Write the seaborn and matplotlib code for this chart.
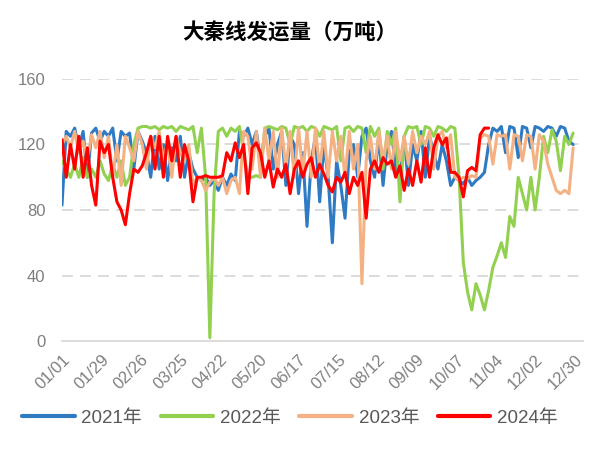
import numpy as np
import pandas as pd
import matplotlib
matplotlib.use("Agg")
import matplotlib.pyplot as plt
from matplotlib.lines import Line2D
import seaborn as sns

step_days = 3
tick_days = [0, 28, 56, 84, 112, 140, 168, 196, 224, 252, 280, 308, 336, 364]
tick_labels = ["01/01", "01/29", "02/26", "03/25", "04/22", "05/20", "06/17",
               "07/15", "08/12", "09/09", "10/07", "11/04", "12/02", "12/30"]
years = ["2021年", "2022年", "2023年", "2024年"]

v2021 = [83, 128, 125, 130, 118, 128, 100, 127, 130, 122,
         128, 125, 130, 110, 128, 125, 127, 105, 128, 122,
         115, 100, 125, 105, 120, 98, 118, 110, 125, 100,
         115, 105, 100, 98, 100, 95, 98, 92, 100, 95,
         102, 98, 128, 125, 130, 120, 128, 110, 125, 130,
         105, 120, 128, 95, 125, 120, 90, 115, 70, 110,
         125, 85, 120, 100, 60, 110, 95, 75, 115, 120,
         100, 125, 130, 110, 100, 125, 95, 120, 128, 105,
         100, 125, 95, 120, 110, 128, 100, 125, 115, 105,
         120, 110, 95, 100, 98, 96, 100, 95, 98, 100,
         103, 120, 130, 128, 131, 115, 131, 130, 112, 131,
         130, 118, 131, 130, 128, 131, 130, 125, 131, 130,
         122, 120]

v2022 = [110, 105, 100, 108, 100, 112, 100, 105, 100, 110,
         102, 98, 108, 100, 110, 95, 100, 120, 130, 131,
         131, 130, 131, 129, 131, 130, 131, 128, 131, 130,
         129, 131, 115, 130, 100, 2, 90, 128, 130, 125,
         130, 128, 131, 115, 100, 100, 101, 100, 130, 131,
         130, 129, 131, 130, 120, 131, 130, 131, 128, 131,
         130, 125, 131, 130, 129, 131, 110, 130, 131, 128,
         131, 130, 115, 131, 125, 130, 105, 128, 120, 130,
         85, 125, 131, 130, 131, 120, 131, 130, 125, 131,
         130, 128, 131, 130, 100, 48, 30, 19, 35, 28,
         19, 31, 45, 52, 60, 51, 76, 70, 100, 90,
         80, 100, 80, 100, 125, 115, 129, 122, 104, 125,
         120, 127]

v2023 = [120, 125, 118, 128, 115, 122, 110, 126, 118, 128,
         112, 125, 100, 120, 95, 125, 118, 110, 128, 120,
         105, 125, 118, 128, 110, 122, 100, 125, 115, 110,
         120, 95, 100, 98, 92, 97, 100, 95, 100, 90,
         98, 100, 90, 128, 125, 105, 128, 100, 130, 110,
         128, 100, 130, 105, 128, 100, 130, 102, 128, 100,
         130, 105, 128, 100, 128, 110, 125, 100, 128, 105,
         120, 35, 110, 125, 105, 128, 110, 125, 105, 128,
         110, 125, 108, 128, 115, 125, 120, 128, 105, 125,
         128, 118, 126, 100, 98, 100, 99, 101, 100, 124,
         126, 125, 108, 126, 125, 126, 105, 126, 125, 110,
         126, 125, 105, 126, 122, 108, 100, 92, 90, 92,
         90, 118]

v2024 = [123, 100, 120, 105, 125, 100, 118, 95, 83, 122,
         115, 120, 100, 85, 80, 71, 90, 105, 103, 107,
         115, 125, 105, 125, 100, 125, 110, 125, 100, 120,
         110, 85, 100, 100, 101, 100, 100, 100, 101, 115,
         110, 121, 112, 120, 90, 118, 121, 115, 100, 110,
         94, 105, 100, 108, 90, 105, 110, 100, 108, 112,
         100, 108, 102, 95, 91, 100, 97, 103, 90, 100,
         95, 103, 75, 105, 110, 103, 112, 108, 110, 100,
         107, 92, 105, 95, 110, 97, 118, 100, 118, 126,
         120, 124, 103, 103, 100, 88, 104, 106, 104, 126,
         130, 130]

colors = ["#2E7BC4", "#92D050", "#F4B183", "#FF0000"]

frames = []
for name, vals in zip(years, [v2021, v2022, v2023, v2024]):
    frames.append(pd.DataFrame({"day": np.arange(len(vals)) * step_days,
                                "value": vals, "year": name}))
df = pd.concat(frames, ignore_index=True)

# ---- style ----
sns.set_style("white")
plt.rcParams["font.family"] = ["Liberation Sans", "Noto Sans CJK SC", "DejaVu Sans"]

fig = plt.figure(figsize=(6.0, 4.54), dpi=100)
ax = fig.add_axes([62 / 600, 1 - 341 / 454, (583 - 62) / 600, (341 - 79) / 454])

sns.lineplot(data=df, x="day", y="value", hue="year", hue_order=years,
             palette=colors, linewidth=2.2, estimator=None, sort=False,
             legend=False, ax=ax)

ax.set_xlim(0, 370)
ax.set_ylim(0, 160)
ax.set_yticks([0, 40, 80, 120, 160])
ax.set_xticks(tick_days)
ax.set_xticklabels(tick_labels, rotation=45, ha="right", rotation_mode="anchor")
ax.tick_params(axis="both", length=0, labelsize=12, labelcolor="#7F7F7F")
ax.tick_params(axis="x", pad=8)
ax.tick_params(axis="y", pad=12)
ax.set_xlabel("")
ax.set_ylabel("")

for y in [40, 80, 120, 160]:
    ax.axhline(y, color="#D9D9D9", linewidth=1.3, linestyle=(0, (6, 4)), zorder=0)

for s in ["top", "right", "left"]:
    ax.spines[s].set_visible(False)
ax.spines["bottom"].set_color("#D9D9D9")
ax.spines["bottom"].set_linewidth(1.3)

fig.text(290 / 600, 1 - 33 / 454, "大秦线发运量（万吨）", ha="center", va="center",
         fontsize=15.5, fontweight="bold", family=["Noto Sans CJK SC", "DejaVu Sans"],
         color="#000000")

handles = [Line2D([0], [0], color=c, linewidth=3) for c in colors]
fig.legend(handles, years, loc="center", bbox_to_anchor=(290 / 600, 1 - 418 / 454),
           ncol=4, frameon=False, fontsize=13.5, handlelength=2.8, handletextpad=0.35,
           columnspacing=1.0, labelcolor="#595959")

fig.savefig("out.png", dpi=100)
